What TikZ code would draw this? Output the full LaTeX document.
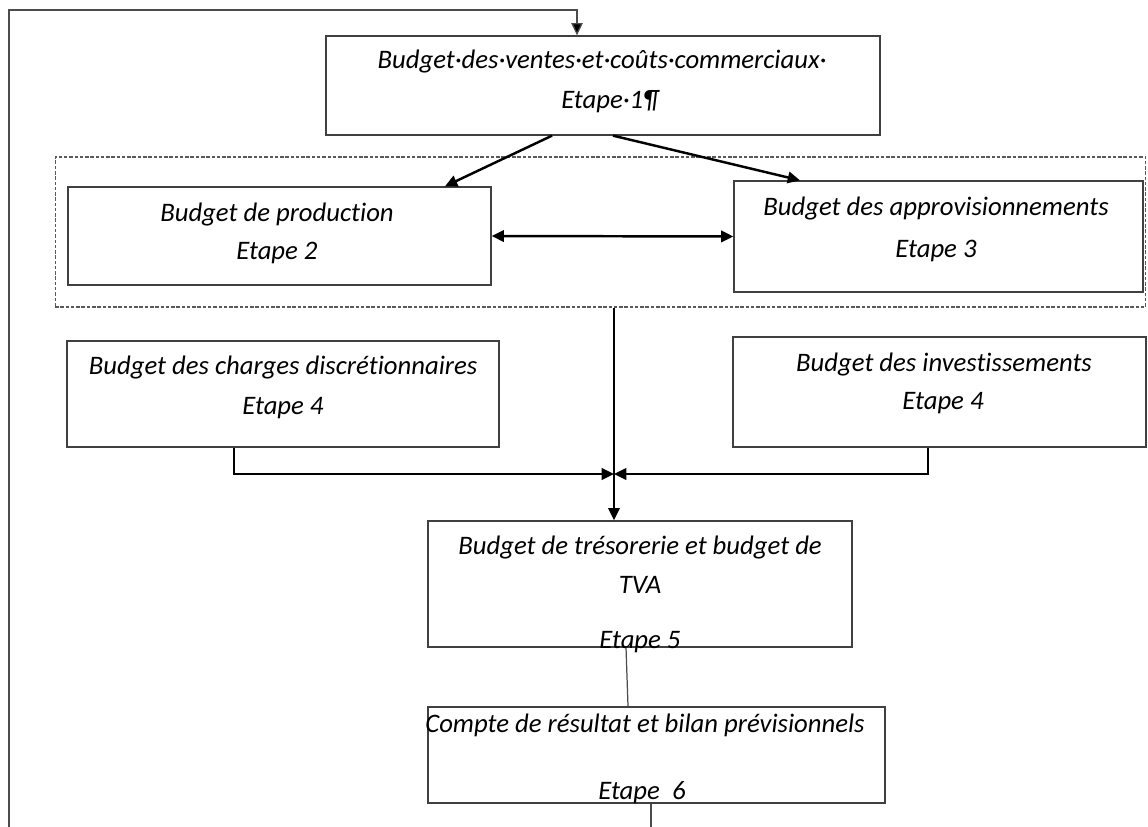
\documentclass[tikz,border=0pt]{standalone}
\usepackage{fontspec}
\setmainfont[Ligatures=NoCommon]{Carlito}
\usetikzlibrary{arrows.meta,positioning}

\tikzset{
  box/.style={draw=black!75, line width=0.75pt, inner sep=0pt},
  txt/.style={font=\fontsize{15.2}{18}\selectfont\itshape, inner sep=0pt},
  flow/.style={line width=1.4pt, -{Triangle[length=7pt,width=6.5pt]}},
  link/.style={draw=black!70, line width=0.7pt},
}

\begin{document}
\begin{tikzpicture}[x=0.02cm,y=-0.02cm]
\useasboundingbox (0,0) rectangle (1148,827);
% boxes
\node[box, minimum width=11.08cm, minimum height=1.98cm] (sales) at (603,85.5) {};
\node[txt] (salesa) at (602,62) {Budget·des·ventes·et·coûts·commerciaux·};
\node[txt] (salesb) at (610,102) {Etape·1¶};
\node[draw=black!65, line width=0.6pt, dash pattern=on 2pt off 1pt, minimum width=21.82cm, minimum height=3cm] (group) at (600.5,232) {};
\node[box, minimum width=8.46cm, minimum height=1.96cm] (prod) at (279.5,236) {};
\node[txt] (proda) at (277,215) {Budget de production};
\node[txt] (prodb) at (277,253) {Etape 2};
\node[box, minimum width=8.18cm, minimum height=2.22cm] (supply) at (938.5,236.5) {};
\node[txt] (supplya) at (936,209) {Budget des approvisionnements};
\node[txt] (supplyb) at (936,251) {Etape 3};
\node[box, minimum width=8.64cm, minimum height=2.12cm] (charges) at (283,394) {};
\node[txt] (chargesa) at (283,368) {Budget des charges discrétionnaires};
\node[txt] (chargesb) at (283,408) {Etape 4};
\node[box, minimum width=8.26cm, minimum height=2.2cm] (invest) at (939.5,392) {};
\node[txt] (investa) at (944,365) {Budget des investissements};
\node[txt] (investb) at (943,403) {Etape 4};
\node[box, minimum width=8.48cm, minimum height=2.52cm] (cash) at (640,584) {};
\node[txt] (casha) at (640,548) {Budget de trésorerie et budget de};
\node[txt] (cashb) at (640,585) {TVA};
\node[txt] (cashc) at (640,642) {Etape 5};
\node[box, minimum width=9.14cm, minimum height=1.92cm] (results) at (656.5,755) {};
\node[txt] (resultsa) at (645,725) {Compte de résultat et bilan prévisionnels};
\node[txt] (resultsb) at (642,793) {Etape\ \ 6};
%
\coordinate (merge) at (614,474);
\coordinate (loopend) at (9,827);
\coordinate (loopcorner) at (9,10);
\coordinate (tail) at (651,827);
%
\draw[flow] ([xshift=-1.02cm]sales.south) -- ([xshift=3.31cm]prod.north);
\draw[flow] ([xshift=0.2cm]sales.south) -- ([xshift=-2.77cm]supply.north);
\draw[flow, {Triangle[length=7pt,width=6.5pt]}-{Triangle[length=7pt,width=6.5pt]}] (prod.east) -- (supply.west);
\draw[flow] (group.south -| merge) -- (cash.north -| merge);
\draw[flow] ([xshift=-0.98cm]charges.south) |- (merge);
\draw[flow] ([xshift=-0.23cm]invest.south) |- (merge);
\draw[link] ([xshift=-0.28cm]cash.south) -- ([xshift=-0.57cm]results.north);
\draw[link] (results.south -| tail) -- (tail);
\draw[link, -{Triangle[length=7pt,width=6.5pt,fill=black]}] (loopend) -- (loopcorner) -| ([xshift=-0.52cm]sales.north);
\end{tikzpicture}
\end{document}
